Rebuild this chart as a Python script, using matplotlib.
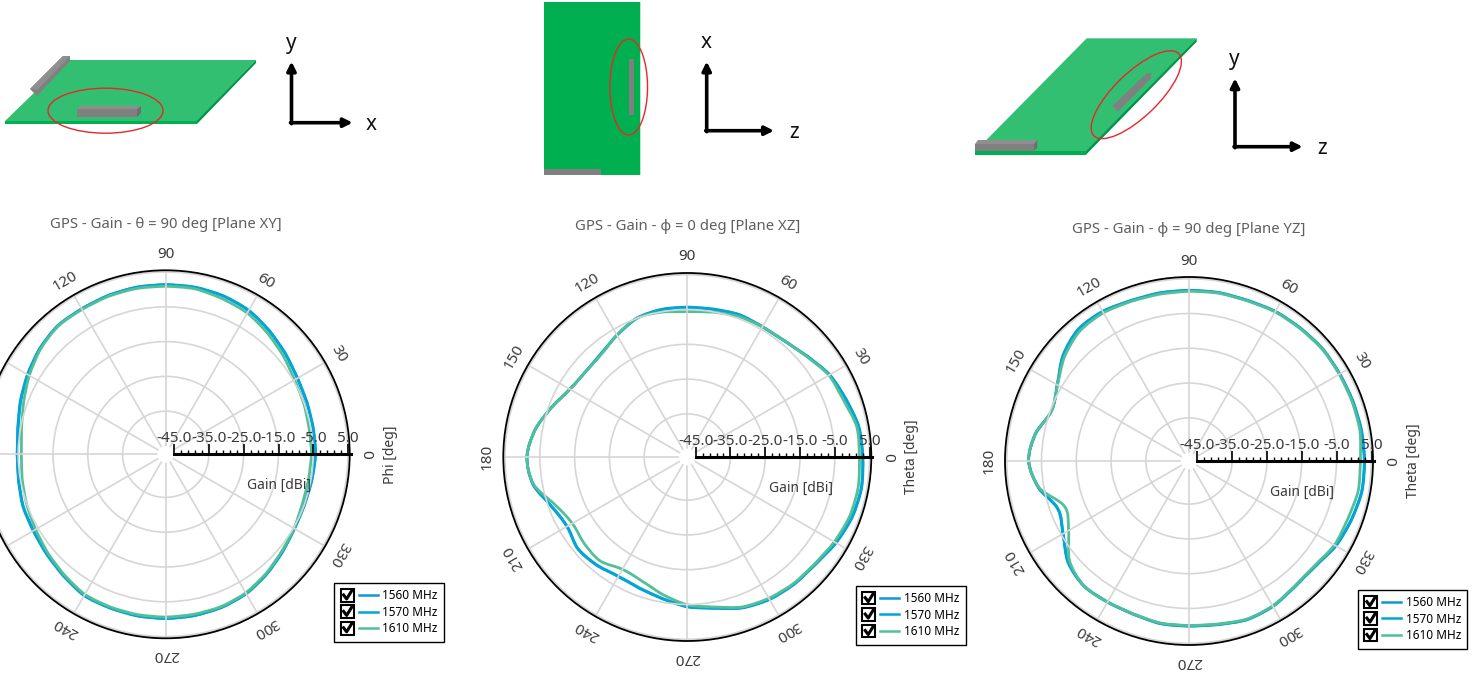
import numpy as np
import matplotlib
matplotlib.use('Agg')
import matplotlib.pyplot as plt
from matplotlib.legend_handler import HandlerBase
from matplotlib.lines import Line2D
from matplotlib.patches import Ellipse, PathPatch, Polygon, Rectangle
from matplotlib.path import Path

plt.rcParams['font.family'] = ['Noto Sans', 'DejaVu Sans']

W, H = 1481, 673

# Gain in dBi read every 10 deg, from 0 to 350
ANGLES = np.arange(0, 360, 10)
FREQ_LABELS = ['1560 MHz', '1570 MHz', '1610 MHz']
THETA_TICKS = np.arange(0, 360, 30)
RINGS = [-35, -25, -15, -5, 5]
GAIN_MAJOR = [-45, -35, -25, -15, -5, 5]

xy_1560 = [-4.3, -4.3, -4.1, -3.6, -2.4, -1.0, 0.4, 1.1, 1.4, 1.4, 1.4, 1.2, 0.9, 0.9, -0.1, -1.5, -2.9, -4.2,
           -4.7, -4.4, -3.7, -3.4, -2.7, -1.7, -0.5, -0.4, -0.2, -0.2, -0.3, -0.5, -1.1, -2.3, -3.6, -4.6, -4.9, -4.7]
xy_1570 = [-4.4, -4.4, -4.2, -3.7, -2.5, -1.1, 0.3, 1.0, 1.3, 1.3, 1.3, 1.1, 0.9, 0.8, -0.2, -1.6, -3.0, -4.3,
           -4.7, -4.5, -3.8, -3.5, -2.8, -1.8, -0.6, -0.4, -0.3, -0.2, -0.3, -0.6, -1.2, -2.4, -3.7, -4.7, -5.0, -4.8]
xy_1610 = [-5.5, -5.5, -5.1, -4.6, -3.3, -1.9, -0.5, 0.2, 0.9, 0.9, 1.0, 0.9, 0.7, 0.7, -0.4, -2.1, -3.9, -5.3,
           -5.9, -5.5, -4.9, -4.2, -3.2, -2.1, -0.9, -0.7, -0.6, -0.6, -0.7, -0.8, -1.4, -2.6, -3.9, -4.8, -5.6, -5.7]

xz_1560 = [3.1, 2.7, 1.2, -0.1, -2.3, -3.8, -4.1, -3.8, -4.2, -4.3, -4.3, -4.9, -6.9, -8.7, -9.2, -8.4, -5.8, -2.9,
           -1.3, -2.3, -5.8, -7.4, -6.3, -6.8, -7.7, -7.2, -6.0, -4.3, -3.2, -1.2, -0.1, 0.4, 0.7, 2.0, 3.1, 3.5]
xz_1570 = [3.0, 2.6, 1.1, -0.2, -2.4, -3.9, -4.2, -3.9, -4.3, -4.4, -4.4, -5.0, -7.0, -8.7, -9.2, -8.4, -5.8, -2.9,
           -1.3, -2.4, -5.9, -7.5, -6.4, -6.9, -7.8, -7.3, -6.1, -4.4, -3.3, -1.3, -0.2, 0.3, 0.6, 1.9, 3.0, 3.4]
xz_1610 = [2.1, 2.1, 0.4, -0.4, -2.5, -3.8, -4.2, -4.4, -5.1, -5.6, -5.1, -4.9, -6.9, -8.9, -9.2, -8.4, -5.8, -2.9,
           -1.3, -2.5, -7.0, -9.2, -8.7, -8.4, -10.1, -9.4, -7.2, -4.9, -3.6, -1.5, -0.5, 0.1, 0.4, 1.4, 2.3, 2.5]

yz_1560 = [3.1, 3.0, 2.8, 2.7, 2.8, 2.5, 2.3, 1.8, 1.8, 1.7, 1.7, 1.7, 2.3, 2.1, -0.1, -3.6, -5.3, -2.5,
           -1.3, -3.4, -7.2, -5.5, -2.0, -0.4, -0.5, -0.5, 0.1, 0.1, 0.4, 1.2, 0.9, -0.1, -0.1, 1.4, 2.3, 3.1]
yz_1570 = [3.0, 2.9, 2.7, 2.6, 2.7, 2.4, 2.2, 1.7, 1.7, 1.6, 1.6, 1.6, 2.2, 2.0, -0.2, -3.7, -5.3, -2.6,
           -1.3, -3.5, -7.3, -5.6, -2.1, -0.5, -0.6, -0.6, 0.0, 0.0, 0.3, 1.1, 0.8, -0.2, -0.2, 1.3, 2.2, 3.0]
yz_1610 = [1.9, 2.5, 2.5, 2.5, 2.6, 2.3, 2.1, 1.6, 1.6, 1.4, 1.3, 1.4, 1.8, 1.4, -0.7, -3.7, -5.3, -2.5,
           -1.3, -3.6, -9.3, -7.4, -2.6, -0.5, -0.6, -0.6, -0.1, -0.1, 0.2, 1.0, 0.7, -0.3, -0.4, 0.9, 1.2, 2.0]

COLORS = ['#1098d6', '#00a6d8', '#52bf98']
TEXT = '#3a3a3a'
NUM_SIZE = 11
LABEL_SIZE = 10


class CheckHandler(HandlerBase):
    """Legend key: ticked checkbox followed by a short line."""

    def create_artists(self, legend, orig_handle, xdescent, ydescent, width, height, fontsize, trans):
        box = Rectangle((0, height / 2 - 4.6), 9.2, 9.2, fc='white', ec='black', lw=1.5, transform=trans)
        tick = Line2D([2, 4.2, 7.8], [height / 2 + 0.3, height / 2 - 2.6, height / 2 + 3.2],
                      color='black', lw=2.2, transform=trans)
        line = Line2D([13, width], [height / 2, height / 2], color=orig_handle.get_color(), lw=1.8, transform=trans)
        return [box, tick, line]


def smooth_trace(ax, values, color):
    """Closed curve through the read values, drawn as Bezier segments in theta/gain space."""
    t = np.radians(ANGLES)
    t_all = np.concatenate([t[-1:] - 2 * np.pi, t, t[:2] + 2 * np.pi])
    r_all = np.concatenate([values[-1:], values, values[:2]])
    pts = np.column_stack([t_all, r_all])
    verts = [pts[1]]
    codes = [Path.MOVETO]
    for i in range(1, len(pts) - 2):
        verts += [pts[i] + (pts[i + 1] - pts[i - 1]) / 6, pts[i + 1] - (pts[i + 2] - pts[i]) / 6, pts[i + 1]]
        codes += [Path.CURVE4] * 3
    ax.add_patch(PathPatch(Path(verts, codes), fc='none', ec=color, lw=2.0, joinstyle='round'))


def gain_plot(fig, cx, cy, title, title_y, angle_name, series):
    R = 184
    ax = fig.add_axes([(cx - R) / W, 1 - (cy + R) / H, 2 * R / W, 2 * R / H], projection='polar')
    ax.set_rorigin(-47.4)
    ax.set_rlim(-45, 5.5)
    ax.set_yticks(RINGS)
    ax.set_yticklabels([])
    ax.set_xticks(np.radians(THETA_TICKS))
    ax.set_xticklabels([])
    ax.grid(True, color='#d6d6d6', lw=1.2)
    ax.tick_params(axis='x', direction='inout', length=7, width=1.4, color='black')
    ax.tick_params(axis='y', length=0)
    ax.spines['polar'].set_color('black')
    ax.spines['polar'].set_linewidth(1.3)
    ax.spines['inner'].set_linewidth(0)

    handles = []
    for values, color, label in zip(series, COLORS, FREQ_LABELS):
        smooth_trace(ax, np.array(values), color)
        handles.append(Line2D([], [], color=color, label=label))

    for deg in THETA_TICKS:
        # the left chart runs off the picture, its far labels are not on it
        if cx + (R + 18) * np.cos(np.radians(deg)) < 0:
            continue
        ax.text(np.radians(deg), 10.1, str(deg), rotation=deg - 90, rotation_mode='anchor',
                ha='center', va='center', fontsize=NUM_SIZE, color=TEXT, clip_on=False)

    ax.legend(handles=handles, handler_map={Line2D: CheckHandler()}, loc='upper left',
              bbox_to_anchor=((cx + 168.6) / W, 1 - (cy + 128.7) / H), bbox_transform=fig.transFigure,
              borderaxespad=0, borderpad=0.55, fontsize=8.5, handlelength=3.13, handletextpad=0.38,
              labelspacing=0.29, fancybox=False, framealpha=1, edgecolor='black', facecolor='white').get_frame().set_linewidth(1)

    # Gain scale drawn as its own axis over the polar plot
    sc = fig.add_axes([(cx + 8.3) / W, 1 - (cy + 0.5) / H, 176.7 / W, 1 / H])
    sc.patch.set_visible(False)
    sc.set_xlim(-45, 5.7)
    sc.set_yticks([])
    for side in ['left', 'right', 'bottom']:
        sc.spines[side].set_visible(False)
    sc.spines['top'].set_linewidth(2.2)
    sc.set_xticks(GAIN_MAJOR)
    sc.set_xticklabels([f'{v:.1f}' for v in GAIN_MAJOR])
    sc.set_xticks(np.arange(-45, 6, 2), minor=True)
    sc.tick_params(axis='x', which='major', top=True, bottom=False, labeltop=True, labelbottom=False,
                   length=7, width=1.2, pad=-1.6, labelsize=NUM_SIZE, labelcolor=TEXT)
    sc.tick_params(axis='x', which='minor', top=True, bottom=False, length=3.2, width=1)
    sc.set_xlabel('Gain [dBi]', fontsize=LABEL_SIZE, color=TEXT, labelpad=10, x=0.595)

    fig.text((cx + 224.5) / W, 1 - cy / H, angle_name, rotation=90, ha='center', va='center',
             fontsize=LABEL_SIZE, color=TEXT)
    fig.text(cx / W, 1 - (title_y + 1.5) / H, title, ha='center', va='center', fontsize=10.7, color='#5f5f5f')


def axes_arrows(ov, x0, y0, ytip, xtip, vname, hname, vpos, hpos):
    style = dict(arrowstyle='-|>', color='black', lw=2.6, mutation_scale=13, shrinkA=0, shrinkB=0)
    ov.annotate('', xy=(x0, ytip), xytext=(x0, y0 + 1), arrowprops=style)
    ov.annotate('', xy=(xtip, y0), xytext=(x0 - 1, y0), arrowprops=style)
    ov.text(vpos[0], vpos[1], vname, fontsize=15, ha='center', va='center', color='#111111')
    ov.text(hpos[0], hpos[1], hname, fontsize=15, ha='center', va='center', color='#111111')


def sketches(fig):
    ov = fig.add_axes([0, 0, 1, 1], zorder=5)
    ov.set_xlim(0, W)
    ov.set_ylim(H, 0)
    ov.axis('off')
    top, front, side = '#33bf72', '#00b050', '#00964a'
    bar, bar_top, bar_dark = '#808080', '#8f8f8f', '#6f6f6f'

    # board seen from XY
    ov.add_patch(Polygon([(68, 60), (256, 60), (197, 121), (5, 121)], fc=top, ec='none'))
    ov.add_patch(Polygon([(5, 120.5), (197, 120.5), (197, 124), (5, 124)], fc=front, ec='none'))
    ov.add_patch(Polygon([(197, 120.5), (256, 60), (256, 63), (197, 124)], fc=side, ec='none'))
    ov.add_patch(Polygon([(30, 89), (37, 96), (70, 61), (70, 56), (63, 56)], fc=bar, ec='none'))
    ov.add_patch(Polygon([(30, 89), (63, 56), (70, 56), (37, 90)], fc=bar_top, ec='none'))
    ov.add_patch(Rectangle((77, 109), 60, 8, fc=bar, ec='none'))
    ov.add_patch(Polygon([(77, 109), (80, 106), (141, 106), (137, 109)], fc=bar_top, ec='none'))
    ov.add_patch(Polygon([(137, 109), (141, 106), (141, 113), (137, 117)], fc=bar_dark, ec='none'))
    ov.add_patch(Ellipse((105.5, 110.7), 115, 45, fc='none', ec='#e8262a', lw=1))
    axes_arrows(ov, 291.5, 122.7, 61.5, 352.7, 'y', 'x', (291, 44), (371, 124))

    # board seen from XZ
    ov.add_patch(Rectangle((544, 2), 96, 172.7, fc=front, ec='none'))
    ov.add_patch(Rectangle((640, 2), 1, 172.7, fc='#b9e6cc', ec='none'))
    ov.add_patch(Rectangle((628.7, 59), 5.3, 56, fc=bar, ec='none'))
    ov.add_patch(Rectangle((544, 169.3), 57, 5.4, fc=bar, ec='none'))
    ov.add_patch(Ellipse((628.7, 87), 37.7, 96, fc='none', ec='#e8262a', lw=1))
    axes_arrows(ov, 706.7, 130.7, 61.5, 774, 'x', 'z', (705.7, 43), (794.3, 132.5))

    # board seen from YZ
    ov.add_patch(Polygon([(1086.7, 38.3), (1196.7, 38.3), (1086, 151.5), (975, 151.5)], fc=top, ec='none'))
    ov.add_patch(Rectangle((975, 151), 111, 3.7, fc=front, ec='none'))
    ov.add_patch(Polygon([(1086, 151), (1196.7, 38.3), (1196.7, 41.7), (1086, 154.7)], fc=side, ec='none'))
    ov.add_patch(Rectangle((975, 144), 59, 6.7, fc=bar, ec='none'))
    ov.add_patch(Polygon([(975, 144), (978, 140), (1037.3, 140), (1034, 144)], fc=bar_top, ec='none'))
    ov.add_patch(Polygon([(1034, 144), (1037.3, 140), (1037.3, 148), (1034, 150.7)], fc=bar_dark, ec='none'))
    ov.add_patch(Polygon([(1112.3, 106), (1117.7, 111.7), (1151, 78.3), (1151, 73.3), (1146.7, 73.3)], fc=bar, ec='none'))
    ov.add_patch(Ellipse((1136.3, 94.7), 118, 44, angle=-44, fc='none', ec='#e8262a', lw=1))
    axes_arrows(ov, 1235, 146.7, 78.3, 1302.7, 'y', 'z', (1234.3, 60), (1321.7, 149))


def main():
    fig = plt.figure(figsize=(W / 100, H / 100), dpi=100)
    gain_plot(fig, 165.7, 454.3, 'GPS - Gain - θ = 90 deg [Plane XY]', 223, 'Phi [deg]', [xy_1560, xy_1570, xy_1610])
    gain_plot(fig, 687.3, 457, 'GPS - Gain - φ = 0 deg [Plane XZ]', 225, 'Theta [deg]', [xz_1560, xz_1570, xz_1610])
    gain_plot(fig, 1189, 461, 'GPS - Gain - φ = 90 deg [Plane YZ]', 228, 'Theta [deg]', [yz_1560, yz_1570, yz_1610])
    sketches(fig)
    fig.savefig('out.png', dpi=100)


if __name__ == "__main__":
    main()
